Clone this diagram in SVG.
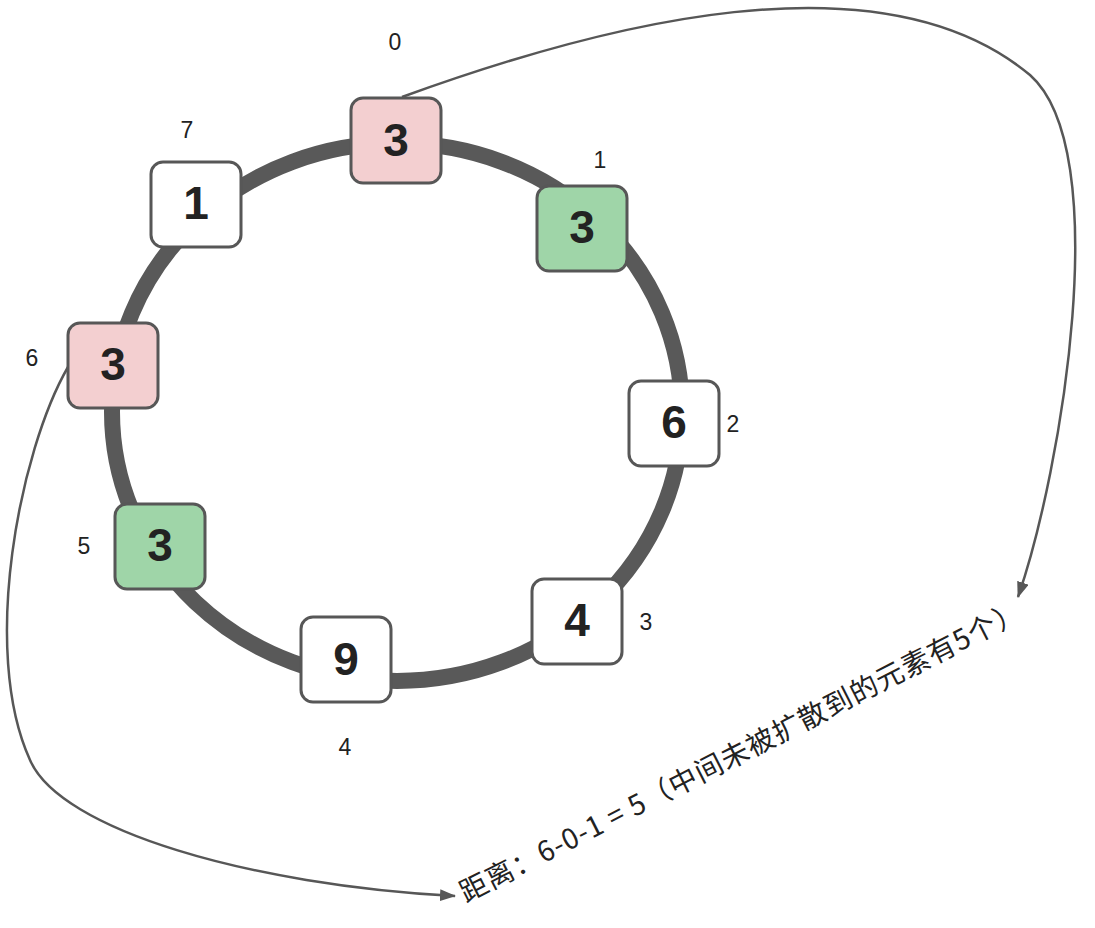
<svg xmlns="http://www.w3.org/2000/svg" width="1095" height="928" viewBox="0 0 1095 928">
<defs>
<style>
.box{stroke:#575757;stroke-width:3}
.w{fill:#ffffff}
.p{fill:#f3cfd0}
.g{fill:#9fd5a8}
.num{font-family:"Liberation Sans",Arial,sans-serif;font-weight:bold;font-size:46px;fill:#222;text-anchor:middle}
.idx{font-family:"Liberation Sans",Arial,sans-serif;font-size:23px;fill:#222;text-anchor:middle}
.conn{fill:none;stroke:#575757;stroke-width:2.5}
.lbl{font-family:"Noto Sans CJK SC",sans-serif;font-size:28px;letter-spacing:1px;fill:#222}
</style>
<marker id="arr" viewBox="0 0 16 12" refX="15" refY="6" markerWidth="16" markerHeight="12" markerUnits="userSpaceOnUse" orient="auto">
<path d="M0,0 L16,6 L0,12 Z" fill="#575757"/>
</marker>
</defs>
<rect width="1095" height="928" fill="#ffffff"/>
<ellipse id="ring" cx="397" cy="412" rx="285" ry="269" fill="none" stroke="#595959" stroke-width="16"/>
<g id="connectors">
<path class="conn" d="M402,97 C600,25 880,-50 1030,75 C1115,150 1062,470 1018,597" marker-end="url(#arr)"/>
<path class="conn" d="M68,367 C20,450 -20,650 30,760 C60,830 250,885 455,896" marker-end="url(#arr)"/>
</g>
<g id="node0"><rect class="box p" x="351" y="98" width="90" height="85" rx="12"/><text class="num" x="396" y="156">3</text><text class="idx" x="395" y="50">0</text></g>
<g id="node1"><rect class="box g" x="537" y="186" width="90" height="85" rx="12"/><text class="num" x="582" y="243">3</text><text class="idx" x="600" y="168">1</text></g>
<g id="node2"><rect class="box w" x="629" y="381" width="90" height="85" rx="12"/><text class="num" x="674" y="438">6</text><text class="idx" x="733" y="432">2</text></g>
<g id="node3"><rect class="box w" x="532" y="579" width="90" height="85" rx="12"/><text class="num" x="577" y="636">4</text><text class="idx" x="646" y="630">3</text></g>
<g id="node4"><rect class="box w" x="301" y="617" width="90" height="85" rx="12"/><text class="num" x="346" y="675">9</text><text class="idx" x="345" y="755">4</text></g>
<g id="node5"><rect class="box g" x="115" y="504" width="90" height="85" rx="12"/><text class="num" x="160" y="561">3</text><text class="idx" x="84" y="554">5</text></g>
<g id="node6"><rect class="box p" x="68" y="323" width="90" height="85" rx="12"/><text class="num" x="113" y="380">3</text><text class="idx" x="32" y="366">6</text></g>
<g id="node7"><rect class="box w" x="151" y="162" width="90" height="85" rx="12"/><text class="num" x="196" y="219">1</text><text class="idx" x="187" y="138">7</text></g>
<g id="label"><text class="lbl" transform="translate(466,903) rotate(-27)">距离：6-0-1 = 5（中间未被扩散到的元素有5个）</text></g>
</svg>
